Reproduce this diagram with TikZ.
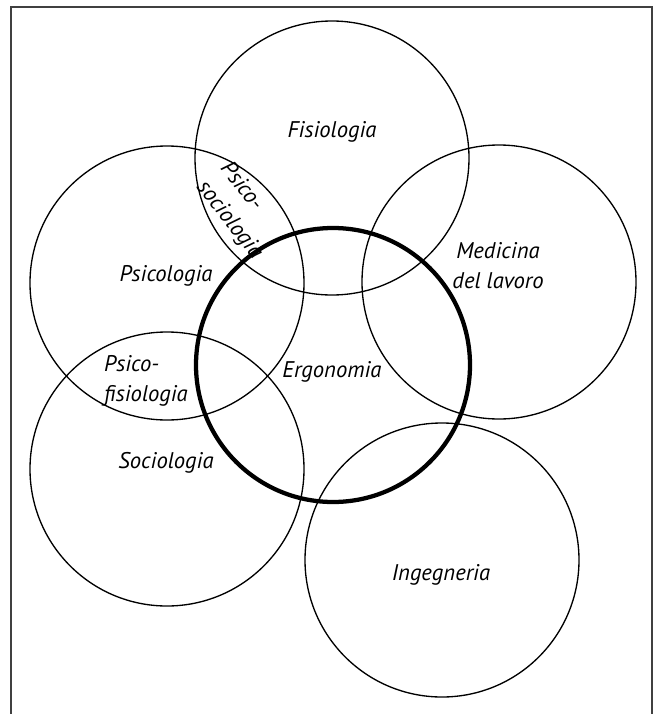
\documentclass[tikz,border=0pt]{standalone}
\usepackage{fontspec}
\setmainfont{PT Sans}
\usepackage{tikz}
\usetikzlibrary{positioning}

\begin{document}
\begin{tikzpicture}[x=0.75pt,y=-0.75pt,
		field/.style={circle,draw,line width=1pt,minimum size=205.5pt,inner sep=0pt},
		core/.style={field,line width=3.2pt},
		lbl/.style={inner sep=0pt,font=\fontsize{17}{22.5}\selectfont\itshape}]
	\useasboundingbox (0,0) rectangle (656,714);
	% cornice
	\draw [line width=1.5pt,draw=black!75] (11,714) -- (11,7) -- (652,7) -- (652,714);
	% cerchi
	\node[field] (fis) at (332,158) {};
	\node[field] (psi) at (167,283) {};
	\node[field] (soc) at (167,469) {};
	\node[field] (med) at (499,282) {};
	\node[field] (ing) at (442,560) {};
	\node[core] (erg) at (333,365) {};
	% etichette
	\node[lbl] (fis-l) at (332,132) {Fisiologia};
	\node[lbl] (psi-l) at (166,276) {Psicologia};
	\node[lbl] (soc-l) at (166,463) {Sociologia};
	\node[lbl,align=center] (med-l) at (498,266) {Medicina\\del lavoro};
	\node[lbl] (ing-l) at (441,575) {Ingegneria};
	\node[lbl] (erg-l) at (332,372) {Ergonomia};
	\node[lbl,align=left] (pfis-l) at (146,381) {Psico-\\fisiologia};
	\node[lbl,align=left,rotate=-52] (psoc-l) at (241,211) {Psico-\\sociologia};
\end{tikzpicture}
\end{document}
